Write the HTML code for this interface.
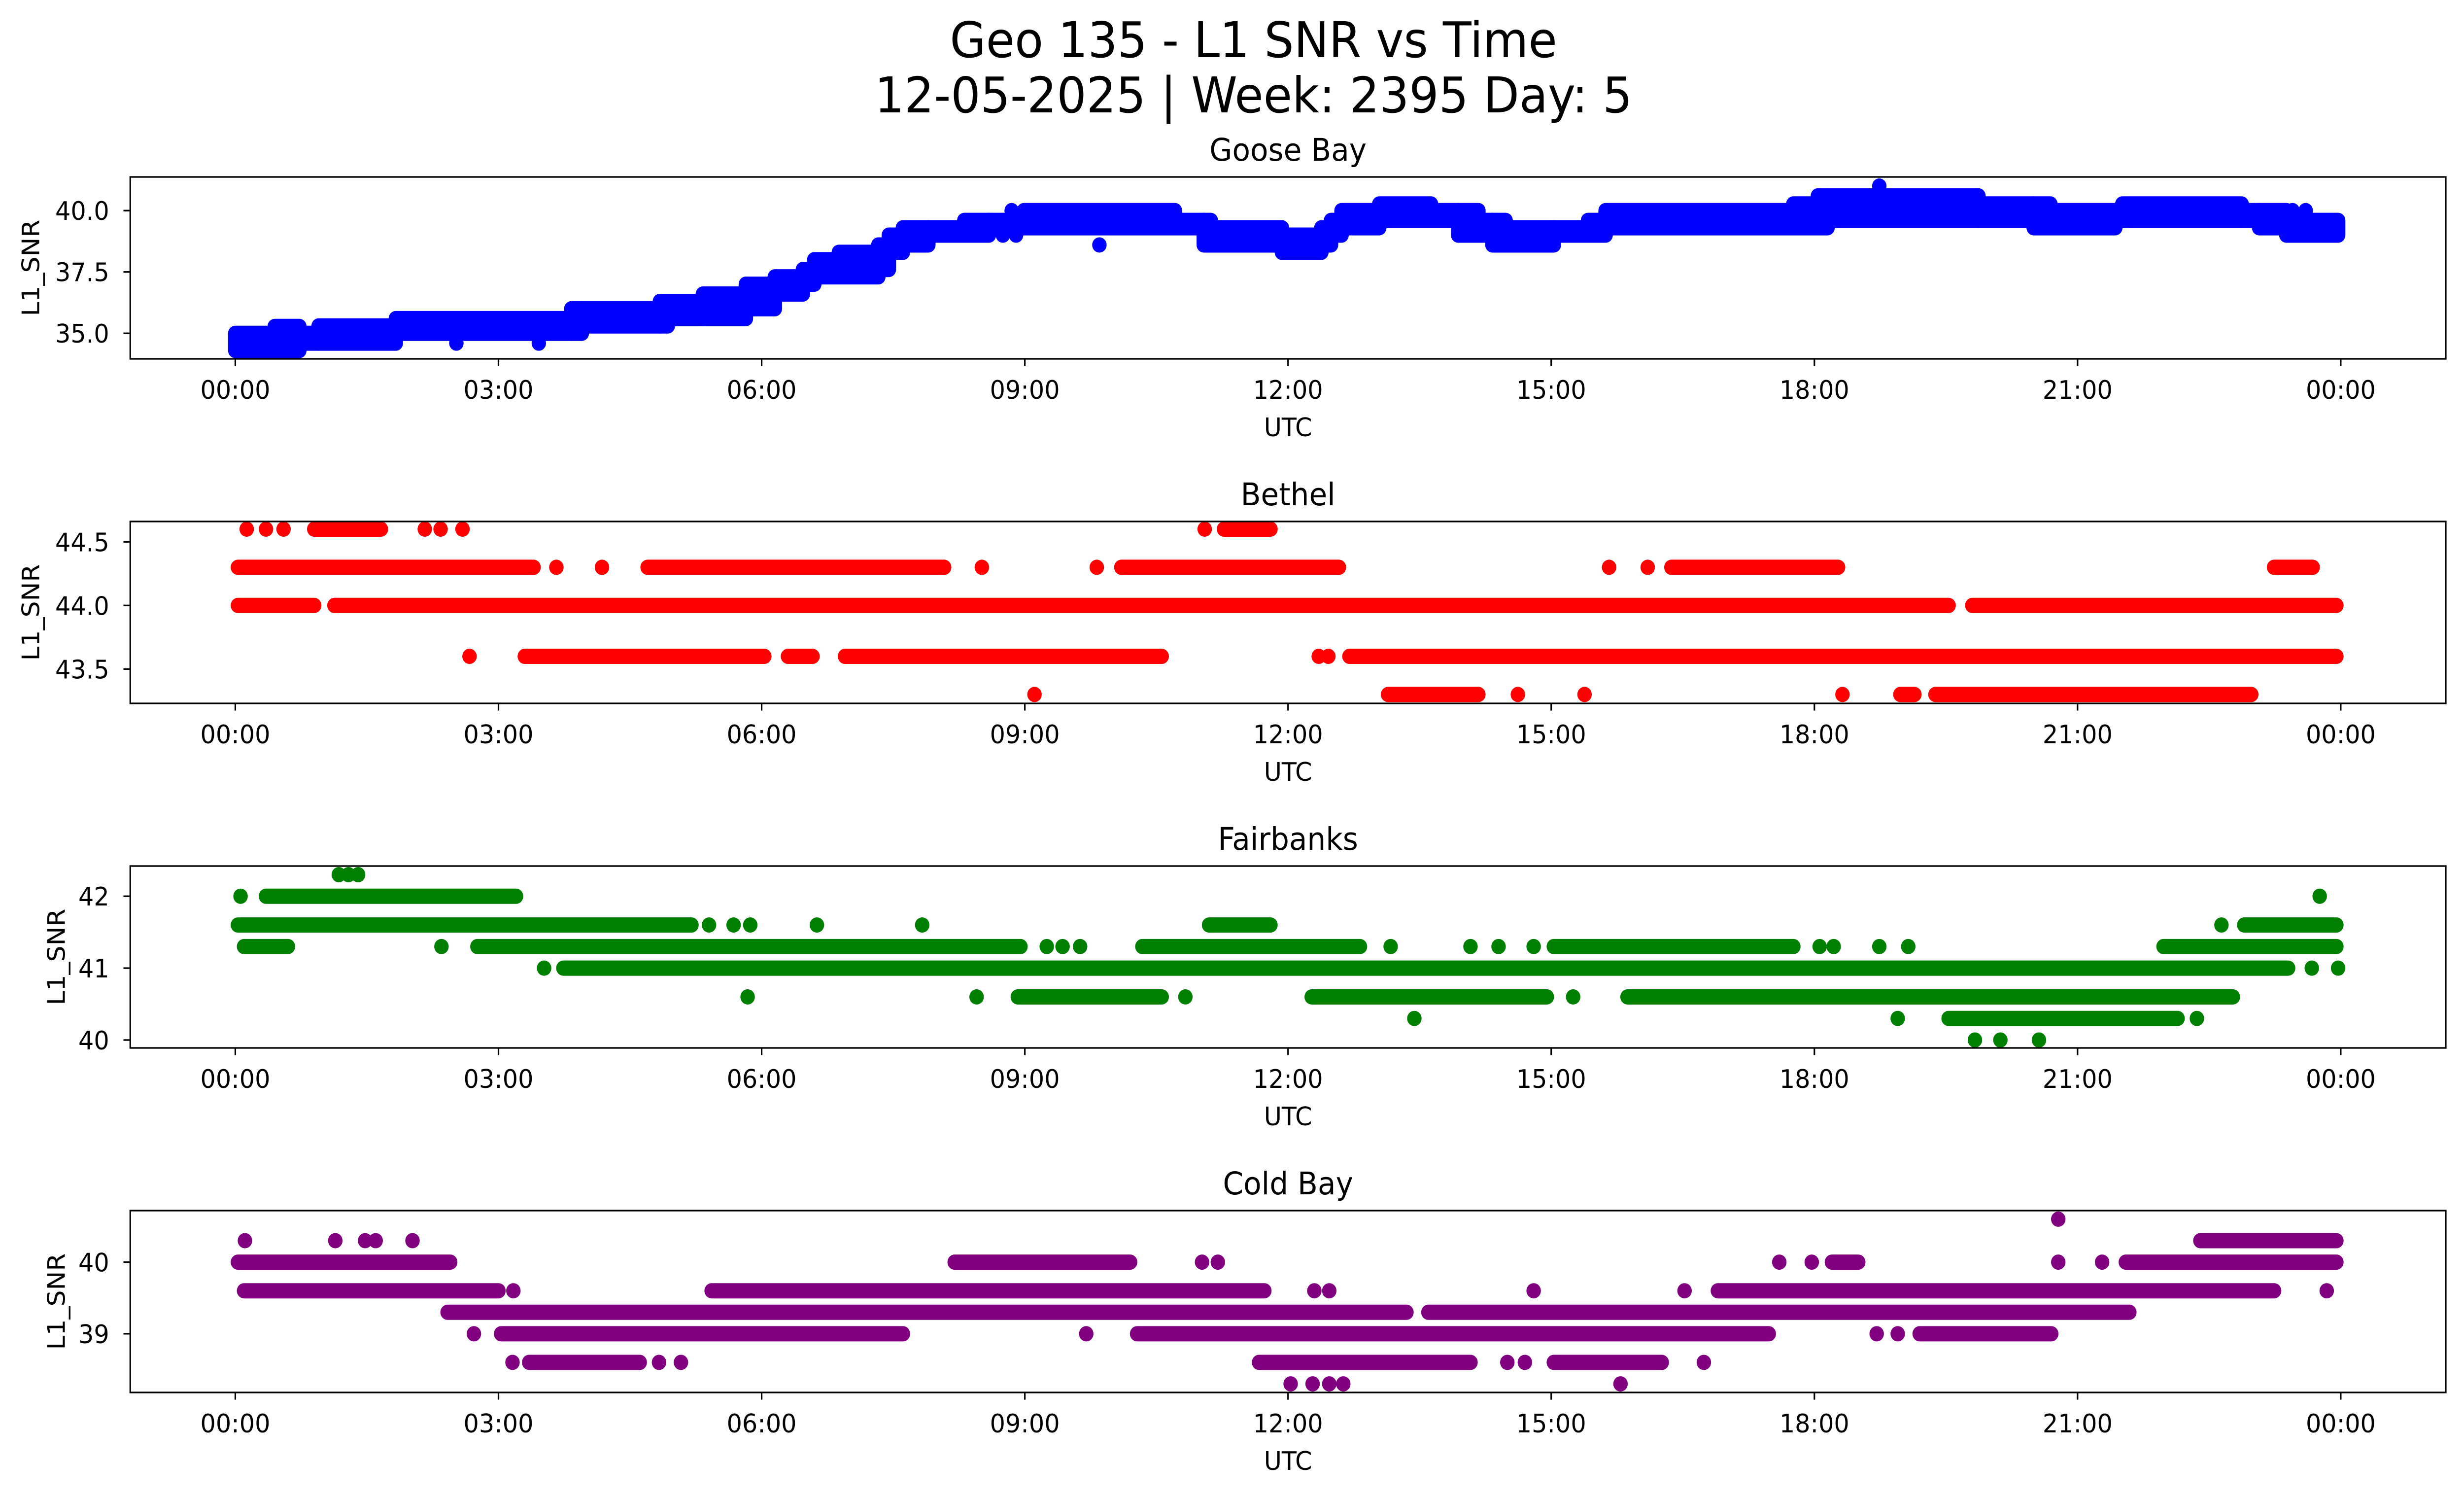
<!DOCTYPE html>
<html><head><meta charset="utf-8"><style>
html,body{margin:0;padding:0;background:#fff;width:100%;height:100%;overflow:hidden}
svg{display:block;position:fixed;left:0;top:0;width:100vw;height:100vh;font-family:"DejaVu Sans","Liberation Sans",sans-serif}
</style></head><body>
<svg id="fig" xmlns="http://www.w3.org/2000/svg" viewBox="0 0 5278 3033" preserveAspectRatio="none">
<rect width="5278" height="3033" fill="#fff"/>
<text x="2685" y="116" font-size="100" text-anchor="middle">Geo 135 - L1 SNR vs Time</text>
<text x="2685" y="228" font-size="100" text-anchor="middle">12-05-2025 | Week: 2395 Day: 5</text>
<g id="panels"></g>
</svg>
<script>
// ---- data ----
const panelNames = ["Goose Bay", "Bethel", "Fairbanks", "Cold Bay"];
const panelColors = ["#0000ff", "#ff0000", "#008000", "#800080"];
const yLims = [[33.96, 41.37], [43.23, 44.66], [39.89, 42.42], [38.18, 40.72]];
const yTicks = [[35, 37.5, 40], [43.5, 44.0, 44.5], [40, 41, 42], [39, 40]];
const yTickLabels = [["35.0", "37.5", "40.0"], ["43.5", "44.0", "44.5"], ["40", "41", "42"], ["39", "40"]];
const xTickHours = [0, 3, 6, 9, 12, 15, 18, 21, 24];
const xTickLabels = ["00:00", "03:00", "06:00", "09:00", "12:00", "15:00", "18:00", "21:00", "00:00"];

// Goose Bay: bands [startHour, endHour, lowSNR, highSNR]
const gooseStart = [0.00,0.45,0.73,0.95,1.83,3.83,3.95,4.84,4.93,5.33,5.82,6.15,6.47,6.60,6.88,7.33,7.45,7.61,7.90,8.31,8.59,8.99,10.71,11.04,11.12,11.93,12.38,12.49,12.61,13.04,13.63,13.94,14.17,14.33,14.48,15.03,15.42,15.62,17.76,18.04,18.15,19.87,20.50,20.69,21.43,21.51,22.87,23.07,23.38];
const gooseEnd   = [0.45,0.73,0.95,1.83,3.83,3.95,4.84,4.93,5.33,5.82,6.15,6.47,6.60,6.88,7.33,7.45,7.61,7.90,8.31,8.59,8.99,10.71,11.04,11.12,11.93,12.38,12.49,12.61,13.04,13.63,13.94,14.17,14.33,14.48,15.03,15.42,15.62,17.76,18.04,18.15,19.87,20.50,20.69,21.43,21.51,22.87,23.07,23.38,23.97];
const gooseLow   = [34.3,34.3,34.6,34.6,35.0,35.0,35.3,35.3,35.6,35.6,36.0,36.6,37.0,37.3,37.3,37.6,38.3,38.6,39.0,39.0,39.3,39.3,39.3,38.6,38.6,38.3,38.6,39.0,39.3,39.6,39.6,39.0,39.0,38.6,38.6,39.0,39.0,39.3,39.3,39.3,39.6,39.6,39.3,39.3,39.6,39.6,39.6,39.3,39.0];
const gooseHigh  = [35.0,35.28,35.0,35.3,35.6,36.0,36.0,36.3,36.3,36.6,37.0,37.3,37.6,38.0,38.3,38.6,39.0,39.3,39.3,39.6,39.6,40.0,39.6,39.6,39.3,39.0,39.3,39.6,40.0,40.27,40.0,40.0,39.6,39.6,39.3,39.3,39.6,40.0,40.27,40.6,40.6,40.27,40.27,40.0,40.0,40.27,40.0,40.0,39.6];
const gooseSpikeHours = [2.52, 3.46, 9.85, 8.75, 8.90, 18.74, 23.45, 23.6, 8.85];
const gooseSpikeVals  = [34.6, 34.6, 38.6, 39.0, 39.0, 41.0, 40.0, 40.0, 40.0];

// Bethel / Fairbanks / Cold Bay: runs [level, startHour, endHour] (start==end means a single point)
const bethelLevels = [44.6,44.6,44.6,44.6,44.6,44.6,44.6,44.6,44.6, 44.3,44.3,44.3,44.3,44.3,44.3,44.3,44.3,44.3,44.3,44.3, 44.0,44.0,44.0, 43.6,43.6,43.6,43.6,43.6,43.6,43.6, 43.3,43.3,43.3,43.3,43.3,43.3,43.3];
const bethelStarts = [0.13,0.35,0.55,0.90,2.16,2.34,2.59,11.05,11.27, 0.03,3.66,4.18,4.70,8.51,9.82,10.10,15.66,16.10,16.37,23.24, 0.03,1.13,19.80, 2.67,3.30,6.30,6.95,12.35,12.46,12.70, 9.11,13.14,14.62,15.38,18.32,18.98,19.38];
const bethelEnds   = [0.13,0.35,0.55,1.66,2.16,2.34,2.59,11.05,11.80, 3.40,3.66,4.18,8.08,8.51,9.82,12.58,15.66,16.10,18.27,23.68, 0.90,19.53,23.95, 2.67,6.03,6.58,10.56,12.35,12.46,23.95, 9.11,14.17,14.62,15.38,18.32,19.14,22.98];

const fairLevels = [42.3,42.3,42.3, 42.0,42.0,42.0, 41.6,41.6,41.6,41.6,41.6,41.6,41.6,41.6,41.6, 41.3,41.3,41.3,41.3,41.3,41.3,41.3,41.3,41.3,41.3,41.3,41.3,41.3,41.3,41.3,41.3,41.3, 41.0,41.0,41.0,41.0, 40.6,40.6,40.6,40.6,40.6,40.6,40.6, 40.3,40.3,40.3,40.3, 40.0,40.0,40.0];
const fairStarts = [1.18,1.29,1.40, 0.06,0.35,23.76, 0.03,5.40,5.68,5.87,6.63,7.83,11.10,22.64,22.90, 0.10,2.35,2.76,9.25,9.43,9.63,10.34,13.17,14.08,14.40,14.80,15.03,18.06,18.22,18.74,19.07,21.98, 3.52,3.74,23.67,23.97, 5.84,8.45,8.92,10.83,12.27,15.25,15.87, 13.44,18.95,19.53,22.36, 19.83,20.12,20.56];
const fairEnds   = [1.18,1.29,1.40, 0.06,3.20,23.76, 5.20,5.40,5.68,5.87,6.63,7.83,11.80,22.64,23.95, 0.60,2.35,8.95,9.25,9.43,9.63,12.82,13.17,14.08,14.40,14.80,17.76,18.06,18.22,18.74,19.07,23.95, 3.52,23.40,23.67,23.97, 5.84,8.45,10.56,10.83,14.95,15.25,22.77, 13.44,18.95,22.14,22.36, 19.83,20.12,20.56];

const coldLevels = [40.6, 40.3,40.3,40.3,40.3,40.3,40.3, 40.0,40.0,40.0,40.0,40.0,40.0,40.0,40.0,40.0,40.0, 39.6,39.6,39.6,39.6,39.6,39.6,39.6,39.6,39.6, 39.3,39.3, 39.0,39.0,39.0,39.0,39.0,39.0,39.0, 38.6,38.6,38.6,38.6,38.6,38.6,38.6,38.6,38.6];
const coldStarts = [20.78, 0.11,1.14,1.48,1.60,2.02,22.40, 0.03,8.20,11.02,11.20,17.60,17.97,18.20,20.78,21.28,21.55, 0.10,3.17,5.43,12.30,12.47,14.80,16.52,16.90,23.84, 2.42,13.60, 2.72,3.03,9.70,10.28,18.71,18.95,19.20, 3.16,3.35,4.83,5.08,11.67,14.50,14.70,15.03,16.74];
const coldEnds   = [20.78, 0.11,1.14,1.48,1.60,2.02,23.95, 2.45,10.20,11.02,11.20,17.60,17.97,18.50,20.78,21.28,23.95, 3.00,3.17,11.73,12.30,12.47,14.80,16.52,23.24,23.84, 13.35,21.59, 2.72,7.61,9.70,17.48,18.71,18.95,20.70, 3.16,4.61,4.83,5.08,14.08,14.50,14.70,16.26,16.74];
const cold383Hours = [12.03, 12.28, 12.47, 12.63, 15.79];

const runLevels = [null, bethelLevels, fairLevels, coldLevels];
const runStarts = [null, bethelStarts, fairStarts, coldStarts];
const runEnds   = [null, bethelEnds, fairEnds, coldEnds];

// ---- layout ----
const NS = "http://www.w3.org/2000/svg";
const AX_L = 279, AX_R = 5239, X0 = 504, X24 = 5014;
const PANEL_TOP0 = 359, PANEL_STEP = 699, PANEL_H = 369;
const R = 15.5;
const root = document.getElementById('panels');
function el(tag, attrs, parent) { const e = document.createElementNS(NS, tag); for (const k in attrs) e.setAttribute(k, attrs[k]); (parent || root).appendChild(e); return e; }
const xOf = h => X0 + (X24 - X0) * h / 24;

for (let p = 0; p < 4; p++) {
  const top = PANEL_TOP0 + p * PANEL_STEP, bot = top + PANEL_H;
  const [lo, hi] = yLims[p];
  const yOf = v => bot - (v - lo) / (hi - lo) * PANEL_H;
  const g = el('g', {});
  
  
  const cp = el('clipPath', { id: 'clip' + p }, g);
  el('rect', { x: AX_L, y: top, width: AX_R - AX_L, height: PANEL_H }, cp);
  const marks = el('g', { 'clip-path': 'url(#clip' + p + ')', fill: panelColors[p], stroke: panelColors[p] }, g);
  
  
  if (p === 0) {
    for (let i = 0; i < gooseStart.length; i++) {
      const x1 = xOf(gooseStart[i]) - R, x2 = xOf(gooseEnd[i]) + R;
      const y1 = yOf(gooseHigh[i]) - R, y2 = yOf(gooseLow[i]) + R;
      const r = el('rect', { x: x1, y: y1, width: x2 - x1, height: y2 - y1, rx: R, ry: R, stroke: 'none' }, marks);
      
      
    }
    for (let i = 0; i < gooseSpikeHours.length; i++) {
      const c = el('circle', { cx: xOf(gooseSpikeHours[i]), cy: yOf(gooseSpikeVals[i]), r: R, stroke: 'none' }, marks);
      
      
    }
  } else {
    const L = runLevels[p], S = runStarts[p], E = runEnds[p];
    for (let i = 0; i < L.length; i++) {
      const y = yOf(L[i]);
      const ln = el('line', { x1: xOf(S[i]), x2: xOf(E[i]), y1: y, y2: y, 'stroke-width': 2 * R, 'stroke-linecap': 'round' }, marks);
      
      
    }
    if (p === 3) {
      for (let i = 0; i < cold383Hours.length; i++) {
        const c = el('circle', { cx: xOf(cold383Hours[i]), cy: yOf(38.3), r: R, stroke: 'none' }, marks);
        
        
      }
    }
  }
  const fr = el('rect', { x: AX_L, y: top, width: AX_R - AX_L, height: PANEL_H, fill: 'none', stroke: '#000', 'stroke-width': 3.3 }, g);
  
  
  for (let i = 0; i < xTickHours.length; i++) {
    const x = xOf(xTickHours[i]);
    const t = el('line', { x1: x, x2: x, y1: bot, y2: bot + 14.6, stroke: '#000', 'stroke-width': 3.3 }, g);
    
    
    const tl = el('text', { x: x, y: bot + 81, 'font-size': 52, 'text-anchor': 'middle' }, g);
    tl.textContent = xTickLabels[i];
    
    
  }
  for (let i = 0; i < yTicks[p].length; i++) {
    const y = yOf(yTicks[p][i]);
    const t = el('line', { x1: AX_L - 14.6, x2: AX_L, y1: y, y2: y, stroke: '#000', 'stroke-width': 3.3 }, g);
    
    
    const tl = el('text', { x: 234, y: y + 19, 'font-size': 52, 'text-anchor': 'end' }, g);
    tl.textContent = yTickLabels[p][i];
    
    
  }
  const xl = el('text', { x: (AX_L + AX_R) / 2, y: bot + 157, 'font-size': 52, 'text-anchor': 'middle' }, g);
  xl.textContent = 'UTC';
  
  
  const yx = (p < 2 ? 65 : 120) + 19, yc = (top + bot) / 2;
  const yl = el('text', { x: yx, y: yc, 'font-size': 52, 'text-anchor': 'middle', transform: 'rotate(-90 ' + yx + ' ' + yc + ')' }, g);
  yl.textContent = 'L1_SNR';
  
  
  const tt = el('text', { x: (AX_L + AX_R) / 2, y: top - 33, 'font-size': 63, 'text-anchor': 'middle' }, g);
  tt.textContent = panelNames[p];
  
  
}
</script>
</body></html>
